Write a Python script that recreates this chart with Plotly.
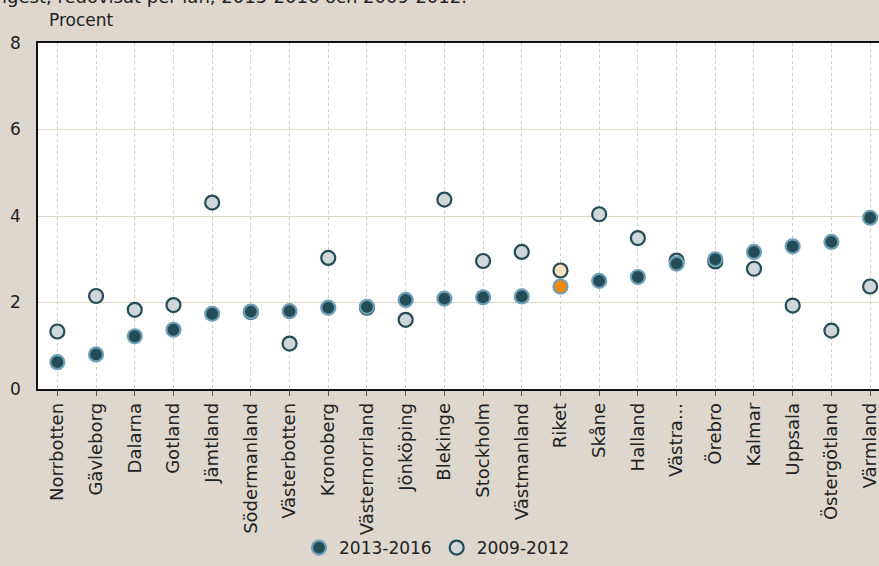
import plotly.graph_objects as go

# Data (procent per län)
lan = ["Norrbotten", "Gävleborg", "Dalarna", "Gotland", "Jämtland",
       "Södermanland", "Västerbotten", "Kronoberg", "Västernorrland",
       "Jönköping", "Blekinge", "Stockholm", "Västmanland", "Riket",
       "Skåne", "Halland", "Västra...", "Örebro", "Kalmar", "Uppsala",
       "Östergötland", "Värmland"]

v_2013_2016 = [0.62, 0.80, 1.22, 1.37, 1.74, 1.79, 1.80, 1.88, 1.90, 2.06,
               2.09, 2.12, 2.14, 2.37, 2.50, 2.59, 2.90, 3.00, 3.17, 3.30,
               3.40, 3.96]

v_2009_2012 = [1.33, 2.15, 1.83, 1.94, 4.31, 1.78, 1.05, 3.03, 1.88, 1.60,
               4.38, 2.96, 3.17, 2.74, 4.04, 3.49, 2.97, 2.95, 2.78, 1.93,
               1.35, 2.37]

FONT = "DejaVu Sans"
DARK = "#244c56"
BLUE = "#6e9fb6"
LIGHT = "#cfd7da"
BG = "#ddd7cd"
W, H = 879, 566
L, T = 38, 43

dark_fill = ["#f28a00" if c == "Riket" else DARK for c in lan]
light_fill = ["#fde0c2" if c == "Riket" else LIGHT for c in lan]

fig = go.Figure()

fig.add_trace(go.Scatter(x=lan, y=v_2009_2012, mode="markers", name="2009-2012",
                         marker=dict(size=14, color=light_fill,
                                     line=dict(color=DARK, width=2.2))))

fig.add_trace(go.Scatter(x=lan, y=v_2013_2016, mode="markers", name="2013-2016",
                         marker=dict(size=14, color=dark_fill,
                                     line=dict(color=BLUE, width=2.2))))

plot_w = W - L
plot_h = 392 - T

fig.update_layout(
    width=W, height=H,
    paper_bgcolor=BG, plot_bgcolor="white",
    margin=dict(l=L, r=0, t=T, b=H - 392),
    font=dict(family=FONT, size=17, color="#222222"),
    showlegend=True,
    legend=dict(orientation="h", x=(437 - L) / plot_w, xanchor="center",
                y=-(553 - 392) / plot_h, yanchor="middle",
                traceorder="reversed", font=dict(size=17), itemwidth=30,
                bgcolor="rgba(0,0,0,0)"),
    annotations=[
        dict(text="Procent", x=(47 - L) / plot_w, xref="paper",
             y=1 + (T - 20) / plot_h, yref="paper",
             showarrow=False, xanchor="left", yanchor="middle", font=dict(size=17)),
        dict(text="igest, redovisat per län, 2013-2016 och 2009-2012.",
             x=-L / plot_w, xref="paper", y=1 + (T + 4) / plot_h, yref="paper",
             showarrow=False, xanchor="left", yanchor="middle", font=dict(size=18)),
    ],
)

fig.update_xaxes(
    range=[-0.5, 21.23], tickangle=-90, ticks="outside", ticklen=5,
    tickcolor="#555555", showgrid=True, gridcolor="#cccccc", griddash="3px,3px",
    gridwidth=1, showline=True, linecolor="#111111", linewidth=1.5, mirror=True,
    tickfont=dict(size=18), automargin=False,
)
fig.update_yaxes(
    range=[0, 8], dtick=2, showgrid=True, gridcolor="#ddd6c6", gridwidth=1,
    showline=True, linecolor="#111111", linewidth=1.5, mirror=False,
    zeroline=False, ticks="", tickfont=dict(size=17), ticklabelstandoff=12,
    automargin=False,
)

fig.write_html("out.html", config={"displayModeBar": False},
               post_script="document.body.style.margin='0';")
